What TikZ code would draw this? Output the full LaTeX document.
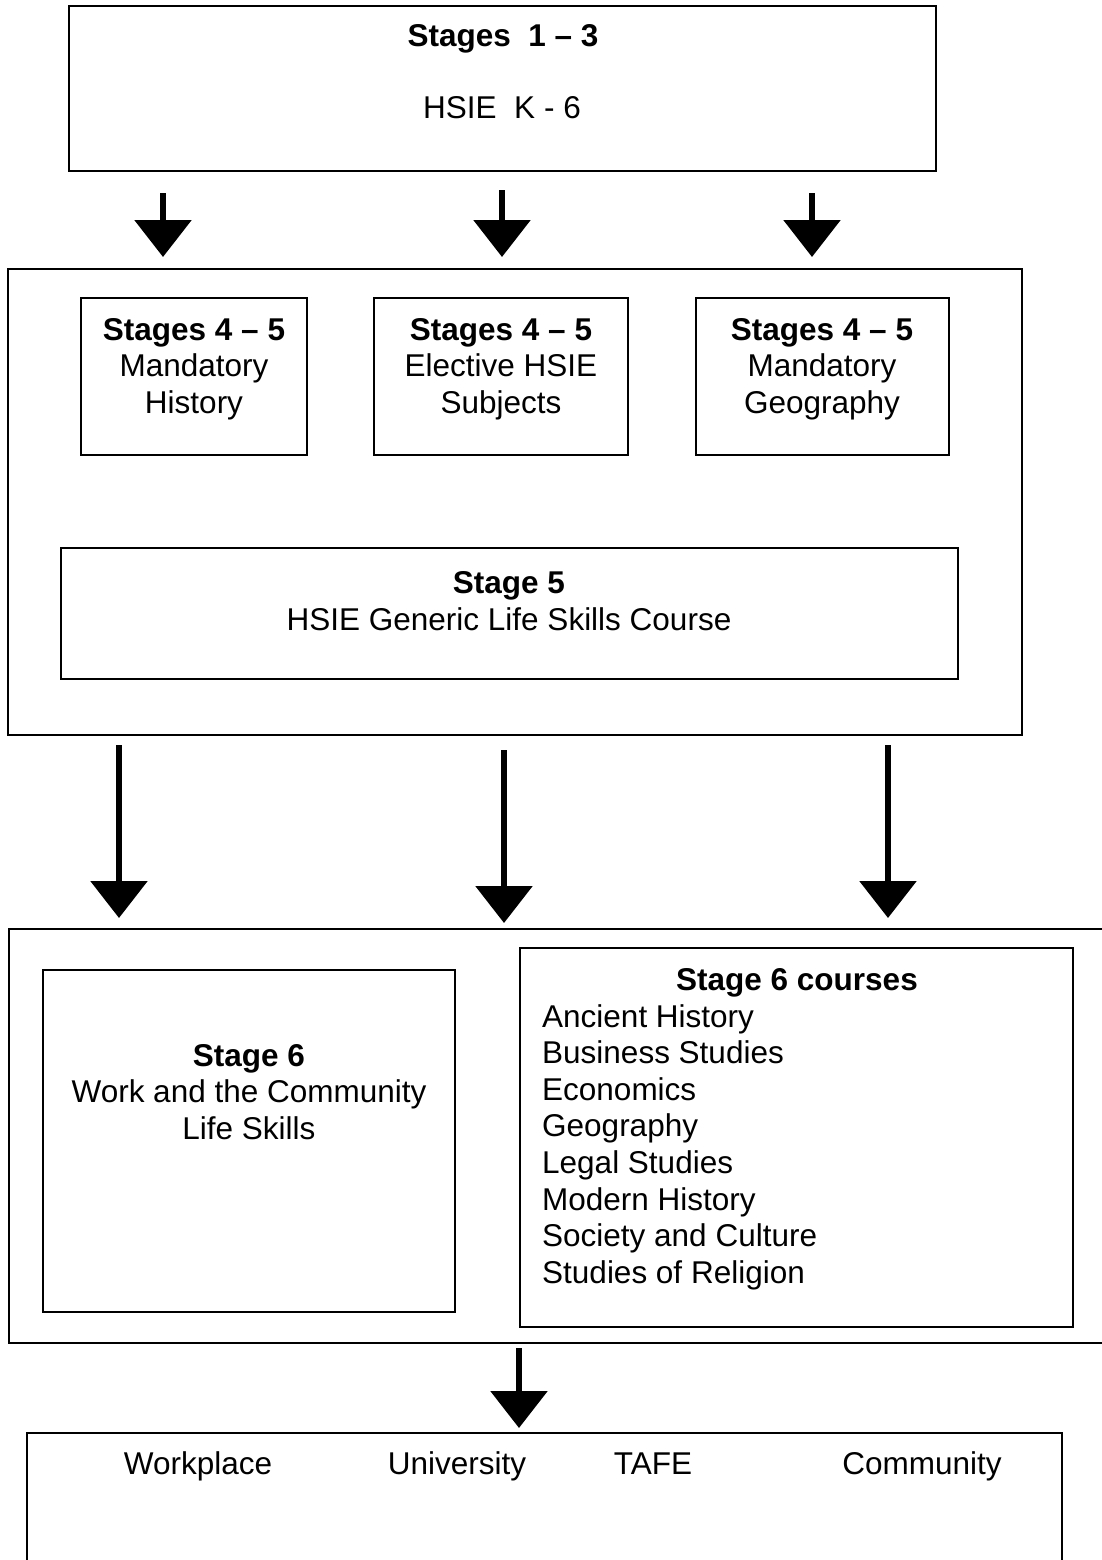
\documentclass[tikz,border=0pt]{standalone}
\usepackage{fontspec}
\setmainfont{Liberation Sans}
\usetikzlibrary{arrows.meta}

\begin{document}
\begin{tikzpicture}[x=1pt, y=-1pt,
  every node/.style={inner sep=0pt},
  box/.style={draw, line width=1.3pt},
  txt/.style={align=center, font=\fontsize{31.5}{36.6}\selectfont},
  flow/.style={line width=6pt, -{Triangle[width=56pt, length=37pt]}}]
\useasboundingbox (0,0) rectangle (1102,1560);
\clip (0,0) rectangle (1102,1560);

% primary
\node[box, minimum width=867, minimum height=165] (k6) at (502.5,88.5) {};
\node[txt] (k6a) at (503,39) {\textbf{Stages\ \ 1 -- 3}};
\node[txt] (k6b) at (502,108) {HSIE\ \ K - 6};

% stages 4-5
\node[box, minimum width=1014, minimum height=466] (mid) at (515,502) {};
\node[box, minimum width=226, minimum height=157] (hist) at (194,376.5) {};
\node[box, minimum width=254, minimum height=157] (elec) at (501,376.5) {};
\node[box, minimum width=253, minimum height=157] (geog) at (822.5,376.5) {};
\node[txt] (histt) at (194,369) {\textbf{Stages 4 -- 5}\\Mandatory\\History};
\node[txt] (elect) at (501,369) {\textbf{Stages 4 -- 5}\\Elective HSIE\\Subjects};
\node[txt] (geogt) at (822,369) {\textbf{Stages 4 -- 5}\\Mandatory\\Geography};
\node[box, minimum width=897, minimum height=131] (ls5) at (509.5,613.5) {};
\node[txt] (ls5t) at (509,601) {\textbf{Stage 5}\\HSIE Generic Life Skills Course};

% stage 6
\node[box, minimum width=1101, minimum height=414] (low) at (559.5,1136) {};
\node[box, minimum width=412, minimum height=342] (wac) at (249,1141) {};
\node[txt] (wact) at (249,1092) {\textbf{Stage 6}\\Work and the Community\\Life Skills};
\node[box, minimum width=553, minimum height=379] (crs) at (796.5,1137.5) {};
\node[txt] (crsh) at (797,983) {\textbf{Stage 6 courses}};
\node[txt, align=left, anchor=west] (crsl) at (542,1147) {Ancient History\\Business Studies\\Economics\\Geography\\Legal Studies\\Modern History\\Society and Culture\\Studies of Religion};

% destinations
\node[box, minimum width=1035, minimum height=167] (dest) at (544.5,1516.5) {};
\node[txt, anchor=base] (work) at (198,1474) {Workplace};
\node[txt, anchor=base] (uni) at (457,1474) {University};
\node[txt, anchor=base] (tafe) at (653,1474) {TAFE};
\node[txt, anchor=base] (comm) at (922,1474) {Community};

% arrows
\foreach \n/\x/\ya/\yb in {1/163/193/257, 2/502/190/257, 3/812/193/257} {
  \coordinate (sa\n) at (\x,\ya);
  \coordinate (sb\n) at (\x,\yb);
  \draw[flow] (sa\n) -- (sb\n);
}
\foreach \n/\x/\ya/\yb in {1/119/745/918, 2/504/750/923, 3/888/745/918} {
  \coordinate (la\n) at (\x,\ya);
  \coordinate (lb\n) at (\x,\yb);
  \draw[flow] (la\n) -- (lb\n);
}
\coordinate (da) at (519,1348);
\coordinate (db) at (519,1428);
\draw[flow] (da) -- (db);
\end{tikzpicture}
\end{document}
